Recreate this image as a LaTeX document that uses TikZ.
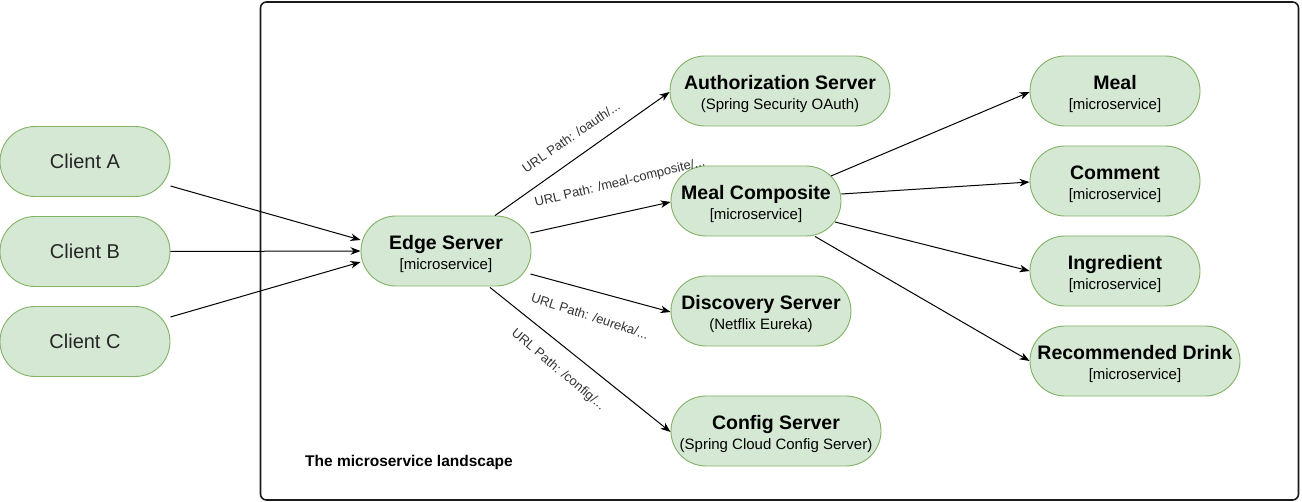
\documentclass[tikz,border=0pt]{standalone}
\usepackage{fontspec}
\setmainfont{Liberation Sans}
\usetikzlibrary{arrows.meta,calc}
\definecolor{nodefill}{HTML}{D5E8D4}
\definecolor{nodedraw}{HTML}{82B366}
\definecolor{lblcol}{HTML}{333333}
\definecolor{boxcol}{HTML}{1A1A1A}
\newcommand{\ttl}[1]{{\bfseries\fontsize{19.5}{19}\selectfont\rule{0pt}{20pt}#1}}
\newcommand{\ms}{{[}microservice{]}}
\tikzset{
  svc/.style={draw=nodedraw, fill=nodefill, line width=0.9pt, rounded corners=34.9pt,
    minimum height=70pt, inner sep=0pt, align=center, text=black,
    font=\fontsize{15}{19.5}\selectfont},
  client/.style={svc, minimum width=170pt, font=\fontsize{20}{24}\selectfont, text=black!85},
  conn/.style={draw=black, line width=1pt, -{Stealth[length=10pt,width=7.5pt,inset=3pt]}},
  urllbl/.style={font=\fontsize{13}{15}\selectfont, text=lblcol, inner sep=0pt},
  landscape/.style={draw=boxcol, line width=1.6pt, rounded corners=6pt}
}
\begin{document}
\begin{tikzpicture}[x=1pt,y=-1pt]
\useasboundingbox (0,0) rectangle (1302,502);
\draw[landscape] (260.5,2) rectangle (1298.5,500);
\node[anchor=west, font=\bfseries\fontsize{15.5}{18}\selectfont, inner sep=0pt] (title) at (305,462) {The microservice landscape};

% clients
\node[client] (ca) at (85,161.5) {Client A};
\node[client] (cb) at (85,251.5) {Client B};
\node[client] (cc) at (85,341.5) {Client C};

% services
\node[svc, minimum width=170pt] (es) at (446,251) {\ttl{Edge Server}\\\ms};
\node[svc, minimum width=220pt] (auth) at (780,91) {\ttl{Authorization Server}\\(Spring Security OAuth)};
\node[svc, minimum width=170pt] (mc) at (756,201) {\ttl{Meal Composite}\\\ms};
\node[svc, minimum width=180pt] (disc) at (761,311) {\ttl{Discovery Server}\\(Netflix Eureka)};
\node[svc, minimum width=210pt] (conf) at (776,431) {\ttl{Config Server}\\(Spring Cloud Config Server)};
\node[svc, minimum width=170pt] (meal) at (1115,91) {\ttl{Meal}\\\ms};
\node[svc, minimum width=170pt] (comm) at (1115,181) {\ttl{Comment}\\\ms};
\node[svc, minimum width=170pt] (ingr) at (1115,271) {\ttl{Ingredient}\\\ms};
\node[svc, minimum width=210pt] (rd) at (1135,361) {\ttl{Recommended Drink}\\\ms};

% client connectors
\draw[conn] ($(ca.east)+(0,24.5)$) -- ($(es.west)+(0,-11)$);
\draw[conn] (cb.east) -- (es.west);
\draw[conn] ($(cc.east)+(0,-24.5)$) -- ($(es.west)+(0,11)$);

% edge server connectors
\draw[conn] ($(es.north)+(49,0)$) -- ($(auth.west)+(0,1)$);
\draw[conn] ($(es.east)+(-1,-18)$) -- ($(mc.west)+(0,1)$);
\draw[conn] ($(es.east)+(-1,23)$) -- ($(disc.west)+(0,1)$);
\draw[conn] ($(es.south)+(44,1)$) -- ($(conf.west)+(0,1)$);

% meal composite connectors
\draw[conn] ($(mc.center)+(75,-25)$) -- ($(meal.west)+(0,1)$);
\draw[conn] ($(mc.east)+(0,-7)$) -- ($(comm.west)+(0,1)$);
\draw[conn] ($(mc.center)+(79,21)$) -- (ingr.west);
\draw[conn] ($(mc.south)+(59,0)$) -- (rd.west);

% labels
\node[urllbl, rotate=34.7] (l1) at (571,137) {URL Path: /oauth/...};
\node[urllbl, rotate=13.5] (l2) at (620,183) {URL Path: /meal-composite/...};
\node[urllbl, rotate=-18] (l3) at (590,316) {URL Path: /eureka/...};
\node[urllbl, rotate=-40] (l4) at (558,370) {URL Path: /config/...};
\end{tikzpicture}
\end{document}
